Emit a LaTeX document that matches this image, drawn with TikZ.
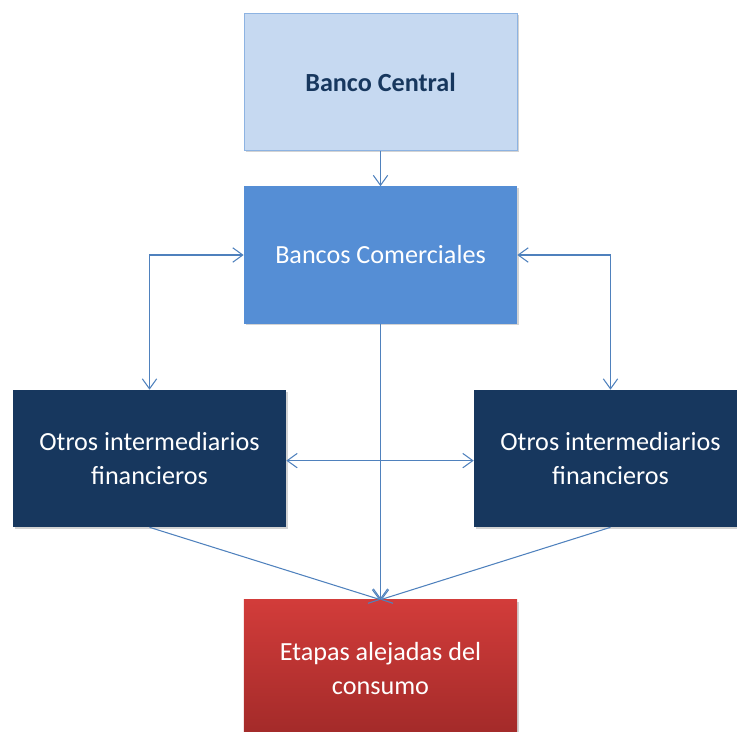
\documentclass[tikz,border=0pt]{standalone}
\usepackage{fontspec}
\setmainfont{Carlito}
\usepackage{xcolor}
\usepackage{tikz}
\usetikzlibrary{positioning,arrows.meta,shadows}
\definecolor{centralfill}{HTML}{C6D9F1}
\definecolor{centraledge}{HTML}{8DB3E2}
\definecolor{navy}      {HTML}{17375E}
\definecolor{midblue}   {HTML}{558ED5}
\definecolor{wire}      {HTML}{4F81BD}
\definecolor{redtop}    {HTML}{D23C3A}
\definecolor{redbot}    {HTML}{A22A29}

\begin{document}
\begin{tikzpicture}[x=0.025cm,y=-0.025cm,
  font=\fontsize{18.6}{23.6}\selectfont,
  box/.style={minimum width=6.825cm,minimum height=3.425cm,align=center,
              inner sep=0pt,draw=none,
              drop shadow={opacity=0.35,shadow xshift=1.2pt,shadow yshift=-1.4pt}},
  link/.style={draw=wire,line width=0.75pt},
  tip/.style={-{Straight Barb[length=2.5mm,width=3.6mm]}},
  both/.style={{Straight Barb[length=2.5mm,width=3.6mm]}-{Straight Barb[length=2.5mm,width=3.6mm]}}]

\useasboundingbox (0,0) rectangle (737,731);

\node[box,fill=centralfill,draw=centraledge,line width=0.6pt,text=navy,
      font=\fontsize{18.6}{23.6}\selectfont\bfseries] (bc) at (380.5,82) {Banco Central};
\node[box,fill=midblue,text=white] (com) at (380.5,255) {Bancos Comerciales};
\node[box,fill=navy,text=white] (oif1) at (149.5,458.5) {Otros intermediarios\\financieros};
\node[box,fill=navy,text=white] (oif2) at (610.5,458.5) {Otros intermediarios\\financieros};
\node[box,top color=redtop,bottom color=redbot,text=white] (eta) at (380.5,668.5)
  {Etapas alejadas del\\consumo};

\draw[link,tip] (bc.south) -- (com.north);
\draw[link,both] (com.west) -| (oif1.north);
\draw[link,both] (com.east) -| (oif2.north);
\draw[link,both] ([yshift=-1.5pt]oif1.east) -- ([yshift=-1.5pt]oif2.west);
\draw[link,tip] (com.south) -- (eta.north);
\draw[link,tip] (oif1.south) -- (eta.north);
\draw[link,tip] (oif2.south) -- (eta.north);
\end{tikzpicture}
\end{document}
